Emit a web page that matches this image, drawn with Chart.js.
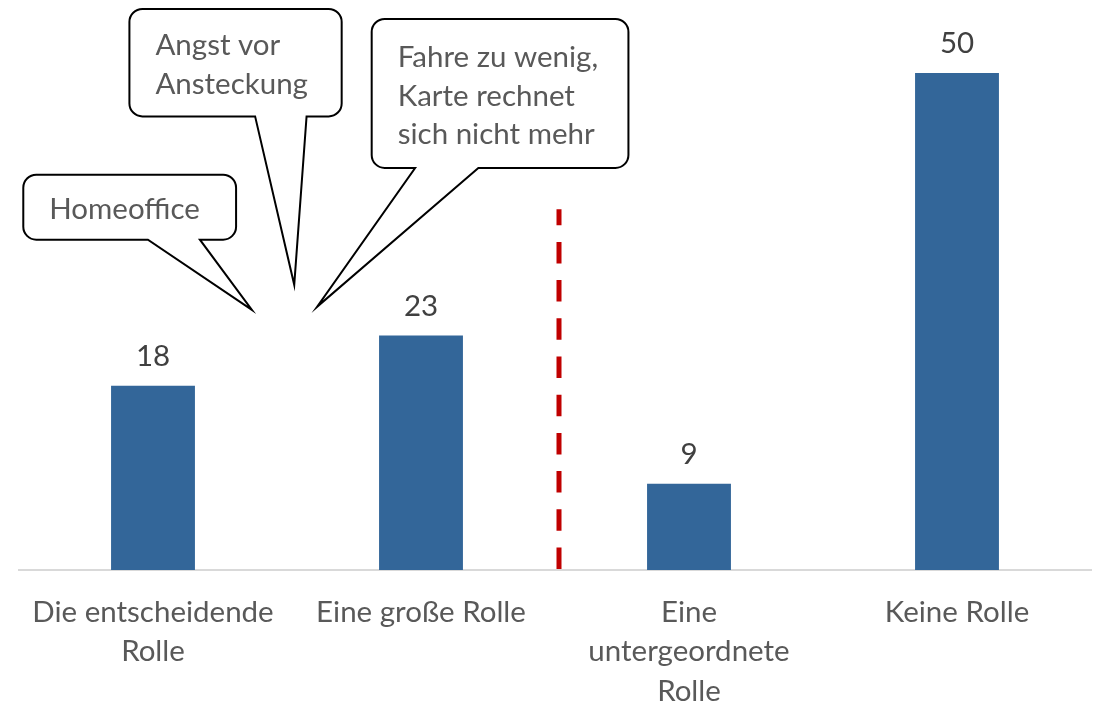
<!DOCTYPE html>
<html>
<head>
<meta charset="utf-8">
<script src="https://cdn.jsdelivr.net/npm/chart.js@4.4.1/dist/chart.umd.min.js"></script>
<style>
  html, body { margin: 0; padding: 0; background: #ffffff; }
  #wrap { width: 1098px; height: 701px; position: relative; }
</style>
</head>
<body>
<div id="wrap"><canvas id="c"></canvas></div>
<script>
// ---- data ----
const categories = [
  ["Die entscheidende", "Rolle"],
  ["Eine große Rolle"],
  ["Eine", "untergeordnete", "Rolle"],
  ["Keine Rolle"]
];
const values = [18.4, 23.4, 8.6, 49.6];
const calloutTexts = [
  ["Homeoffice"],
  ["Angst vor", "Ansteckung"],
  ["Fahre zu wenig,", "Karte rechnet", "sich nicht mehr"]
];
const dividerTop = 36; // value where the red dashed divider ends

// ---- callout geometry (category-index / value coordinates) ----
const calloutGeom = [
  { left: -0.484, right: 0.310, top: 39.46, bottom: 32.97, base1: -0.019, base2: 0.175, tipX: 0.369, tipY: 25.97 },
  { left: -0.088, right: 0.704, top: 56.0,  bottom: 45.28, base1: 0.381,  base2: 0.573, tipX: 0.527, tipY: 28.47 },
  { left: 0.816,  right: 1.774, top: 55.0,  bottom: 40.13, base1: 0.978,  base2: 1.214, tipX: 0.612, tipY: 26.27 }
];

const FONT = 'Lato, "Open Sans", sans-serif';
const FS = 29.5;

const overlay = {
  id: 'overlay',
  afterDatasetsDraw(chart) {
    const ctx = chart.ctx;
    const xs = chart.scales.x, ys = chart.scales.y;
    const x0 = xs.getPixelForValue(0);
    const step = xs.getPixelForValue(1) - x0;
    const px = v => x0 + v * step;
    const py = v => ys.getPixelForValue(v);

    // red dashed divider
    ctx.save();
    const dx = (xs.getPixelForValue(1) + xs.getPixelForValue(2)) / 2 + 4;
    ctx.strokeStyle = '#C00000';
    ctx.lineWidth = 5;
    ctx.setLineDash([21.5, 16.7]);
    ctx.beginPath();
    ctx.moveTo(dx, py(0) - 1);
    ctx.lineTo(dx, py(dividerTop));
    ctx.stroke();
    ctx.restore();

    // data labels
    ctx.save();
    ctx.font = FS + 'px ' + FONT;
    ctx.fillStyle = '#404040';
    ctx.textAlign = 'center';
    ctx.textBaseline = 'alphabetic';
    chart.getDatasetMeta(0).data.forEach((bar, i) => {
      ctx.fillText(String(Math.round(values[i])), bar.x, bar.y - 20);
    });
    ctx.restore();

    // callouts
    calloutGeom.forEach((g, k) => {
      const L = px(g.left), R = px(g.right), T = py(g.top), B = py(g.bottom);
      const b1 = px(g.base1), b2 = px(g.base2), tx = px(g.tipX), ty = py(g.tipY);
      const r = 13;
      ctx.save();
      ctx.beginPath();
      ctx.moveTo(L + r, T);
      ctx.lineTo(R - r, T);
      ctx.arcTo(R, T, R, T + r, r);
      ctx.lineTo(R, B - r);
      ctx.arcTo(R, B, R - r, B, r);
      ctx.lineTo(b2, B);
      ctx.lineTo(tx, ty);
      ctx.lineTo(b1, B);
      ctx.lineTo(L + r, B);
      ctx.arcTo(L, B, L, B - r, r);
      ctx.lineTo(L, T + r);
      ctx.arcTo(L, T, L + r, T, r);
      ctx.closePath();
      ctx.fillStyle = '#ffffff';
      ctx.fill();
      ctx.lineWidth = 2;
      ctx.lineJoin = 'miter';
      ctx.strokeStyle = '#000000';
      ctx.stroke();

      const lines = calloutTexts[k];
      const lh = 38.8;
      const cy = (T + B) / 2 + 2.5;
      ctx.font = FS + 'px ' + FONT;
      ctx.fillStyle = '#595959';
      ctx.textAlign = 'left';
      ctx.textBaseline = 'middle';
      lines.forEach((ln, j) => {
        const y = cy + (j - (lines.length - 1) / 2) * lh;
        ctx.fillText(ln, L + 26, y);
      });
      ctx.restore();
    });
  }
};

new Chart(document.getElementById('c'), {
  type: 'bar',
  data: {
    labels: categories,
    datasets: [{
      data: values,
      backgroundColor: '#336699',
      borderWidth: 0,
      barPercentage: 0.313,
      categoryPercentage: 1.0
    }]
  },
  options: {
    responsive: true,
    maintainAspectRatio: false,
    animation: false,
    devicePixelRatio: 1,
    layout: { padding: { left: 19, right: 7, top: 19, bottom: 0 } },
    plugins: { legend: { display: false }, tooltip: { enabled: false } },
    scales: {
      x: {
        grid: { display: false, drawTicks: false },
        border: { display: true, color: '#d9d9d9', width: 2 },
        ticks: {
          color: '#595959',
          font: { family: FONT, size: FS, lineHeight: 1.33 },
          padding: 23,
          maxRotation: 0,
          autoSkip: false
        },
        afterFit(scale) { scale.height = 131; }
      },
      y: {
        display: false,
        min: 0,
        max: 55
      }
    }
  },
  plugins: [overlay]
});
</script>
</body>
</html>
